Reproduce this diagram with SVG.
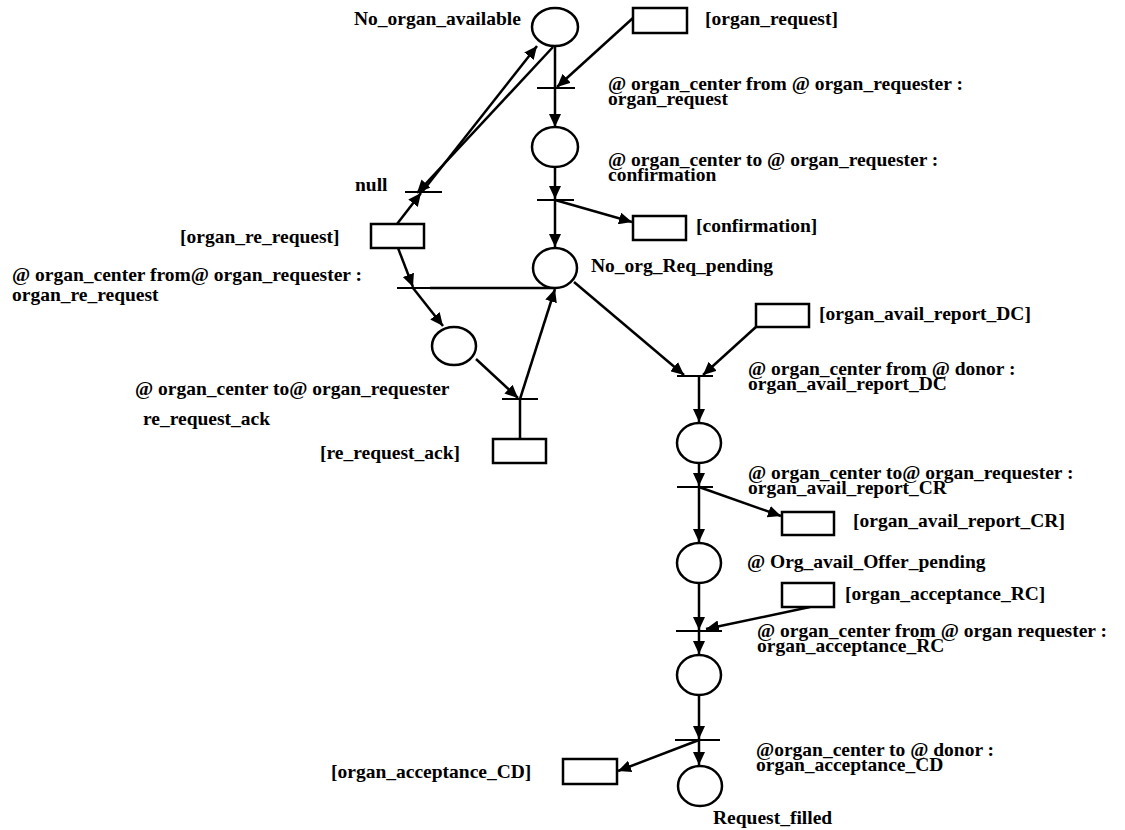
<svg xmlns="http://www.w3.org/2000/svg" width="1125" height="830" viewBox="0 0 1125 830">
  <style>
    .place { fill: #fff; stroke: #000; stroke-width: 2.5; }
    .box { fill: #fff; stroke: #000; stroke-width: 2.5; }
    .bar { stroke: #000; stroke-width: 2; }
    .arc { stroke: #000; stroke-width: 2.5; fill: none; }
    .arr { marker-end: url(#head); }
    text { font-family: "Liberation Serif", "Times New Roman", serif; font-weight: bold; font-size: 19.5px; fill: #000; }
  </style>
  <defs>
    <marker id="head" markerUnits="userSpaceOnUse" markerWidth="14" markerHeight="12" refX="13" refY="6" orient="auto">
      <path d="M0,0 L13,6 L0,12 z" fill="#000"/>
    </marker>
  </defs>
  <rect width="1125" height="830" fill="#fff"/>

  <!-- arcs between places, transitions and message boxes -->
  <g id="connectors">
    <line class="arc arr" x1="633" y1="18" x2="557" y2="87"/>
    <line class="arc" x1="555" y1="46" x2="555" y2="88"/>
    <line class="arc arr" x1="555" y1="88" x2="555" y2="127"/>
    <line class="arc arr" x1="555" y1="167" x2="555" y2="199"/>
    <line class="arc arr" x1="555" y1="200" x2="555" y2="247"/>
    <line class="arc arr" x1="555" y1="200" x2="632" y2="222"/>
    <line class="arc arr" x1="397" y1="224" x2="421" y2="193"/>
    <line class="arc arr" x1="422" y1="192" x2="537" y2="46"/>
    <line class="arc arr" x1="553" y1="47" x2="417" y2="193"/>
    <line class="arc arr" x1="398" y1="248" x2="413" y2="287"/>
    <line class="arc arr" x1="413" y1="288" x2="443" y2="326"/>
    <line class="arc" x1="555" y1="288" x2="430" y2="288"/>
    <line class="arc arr" x1="476" y1="359" x2="518" y2="398"/>
    <line class="arc arr" x1="520" y1="399" x2="555" y2="289"/>
    <line class="arc" x1="520" y1="399" x2="520" y2="439"/>
    <line class="arc arr" x1="574" y1="282" x2="684" y2="375"/>
    <line class="arc arr" x1="757" y1="326" x2="703" y2="375"/>
    <line class="arc arr" x1="699" y1="376" x2="699" y2="422"/>
    <line class="arc arr" x1="699" y1="463" x2="699" y2="486"/>
    <line class="arc arr" x1="699" y1="487" x2="699" y2="542"/>
    <line class="arc arr" x1="699" y1="487" x2="781" y2="516"/>
    <line class="arc arr" x1="699" y1="583" x2="699" y2="630"/>
    <line class="arc arr" x1="810" y1="607" x2="706" y2="629"/>
    <line class="arc arr" x1="699" y1="631" x2="699" y2="654"/>
    <line class="arc arr" x1="699" y1="695" x2="699" y2="739"/>
    <line class="arc arr" x1="699" y1="740" x2="699" y2="765"/>
    <line class="arc arr" x1="699" y1="740" x2="618" y2="771"/>
  </g>

  <!-- places -->
  <g id="p-no-organ-available">
    <ellipse class="place" cx="555" cy="27" rx="23" ry="19"/>
    <text x="354" y="25">No_organ_available</text>
  </g>
  <g id="p-requested">
    <ellipse class="place" cx="555" cy="147" rx="23" ry="20"/>
  </g>
  <g id="p-no-org-req-pending">
    <ellipse class="place" cx="555" cy="268" rx="22" ry="20"/>
    <text x="591" y="272">No_org_Req_pending</text>
  </g>
  <g id="p-re-requested">
    <ellipse class="place" cx="454" cy="346" rx="22" ry="19"/>
  </g>
  <g id="p-avail-reported">
    <ellipse class="place" cx="699" cy="443" rx="22" ry="20"/>
  </g>
  <g id="p-offer-pending">
    <ellipse class="place" cx="699" cy="563" rx="22" ry="20"/>
    <text x="747" y="568">@ Org_avail_Offer_pending</text>
  </g>
  <g id="p-accepted">
    <ellipse class="place" cx="699" cy="675" rx="22" ry="20"/>
  </g>
  <g id="p-request-filled">
    <ellipse class="place" cx="700" cy="786" rx="22" ry="20"/>
    <text x="713" y="824">Request_filled</text>
  </g>

  <!-- transitions -->
  <g id="t-organ-request">
    <line class="bar" x1="537" y1="88" x2="575" y2="88"/>
    <text x="608" y="90">@ organ_center from @ organ_requester :</text>
    <text x="608" y="105">organ_request</text>
  </g>
  <g id="t-confirmation">
    <line class="bar" x1="537" y1="200" x2="574" y2="200"/>
    <text x="608" y="166">@ organ_center to @ organ_requester :</text>
    <text x="608" y="181">confirmation</text>
  </g>
  <g id="t-null">
    <line class="bar" x1="405" y1="192" x2="442" y2="192"/>
    <text x="355" y="191">null</text>
  </g>
  <g id="t-organ-re-request">
    <line class="bar" x1="397" y1="288" x2="435" y2="288"/>
    <text x="12" y="281">@ organ_center from@ organ_requester :</text>
    <text x="12" y="301">organ_re_request</text>
  </g>
  <g id="t-re-request-ack">
    <line class="bar" x1="502" y1="399" x2="538" y2="399"/>
    <text x="135" y="395">@ organ_center to@ organ_requester</text>
    <text x="143" y="425">re_request_ack</text>
  </g>
  <g id="t-avail-report-dc">
    <line class="bar" x1="677" y1="376" x2="713" y2="376"/>
    <text x="748" y="375">@ organ_center from @ donor :</text>
    <text x="748" y="390">organ_avail_report_DC</text>
  </g>
  <g id="t-avail-report-cr">
    <line class="bar" x1="677" y1="487" x2="713" y2="487"/>
    <text x="748" y="479">@ organ_center to@ organ_requester :</text>
    <text x="748" y="494">organ_avail_report_CR</text>
  </g>
  <g id="t-acceptance-rc">
    <line class="bar" x1="676" y1="631" x2="722" y2="631"/>
    <text x="757" y="637">@ organ_center from @ organ requester :</text>
    <text x="757" y="652">organ_acceptance_RC</text>
  </g>
  <g id="t-acceptance-cd">
    <line class="bar" x1="675" y1="740" x2="720" y2="740"/>
    <text x="756" y="756">@organ_center to @ donor :</text>
    <text x="756" y="771">organ_acceptance_CD</text>
  </g>

  <!-- message boxes -->
  <g id="m-organ-request">
    <rect class="box" x="633" y="8" width="54" height="25"/>
    <text x="705" y="25">[organ_request]</text>
  </g>
  <g id="m-confirmation">
    <rect class="box" x="633" y="216" width="53" height="24"/>
    <text x="696" y="232">[confirmation]</text>
  </g>
  <g id="m-organ-re-request">
    <rect class="box" x="371" y="224" width="53" height="24"/>
    <text x="180" y="243">[organ_re_request]</text>
  </g>
  <g id="m-re-request-ack">
    <rect class="box" x="493" y="439" width="53" height="24"/>
    <text x="320" y="459">[re_request_ack]</text>
  </g>
  <g id="m-avail-report-dc">
    <rect class="box" x="756" y="304" width="53" height="23"/>
    <text x="819" y="320">[organ_avail_report_DC]</text>
  </g>
  <g id="m-avail-report-cr">
    <rect class="box" x="782" y="512" width="52" height="23"/>
    <text x="853" y="527">[organ_avail_report_CR]</text>
  </g>
  <g id="m-acceptance-rc">
    <rect class="box" x="782" y="583" width="52" height="24"/>
    <text x="845" y="600">[organ_acceptance_RC]</text>
  </g>
  <g id="m-acceptance-cd">
    <rect class="box" x="563" y="759" width="54" height="25"/>
    <text x="331" y="778">[organ_acceptance_CD]</text>
  </g>
</svg>
